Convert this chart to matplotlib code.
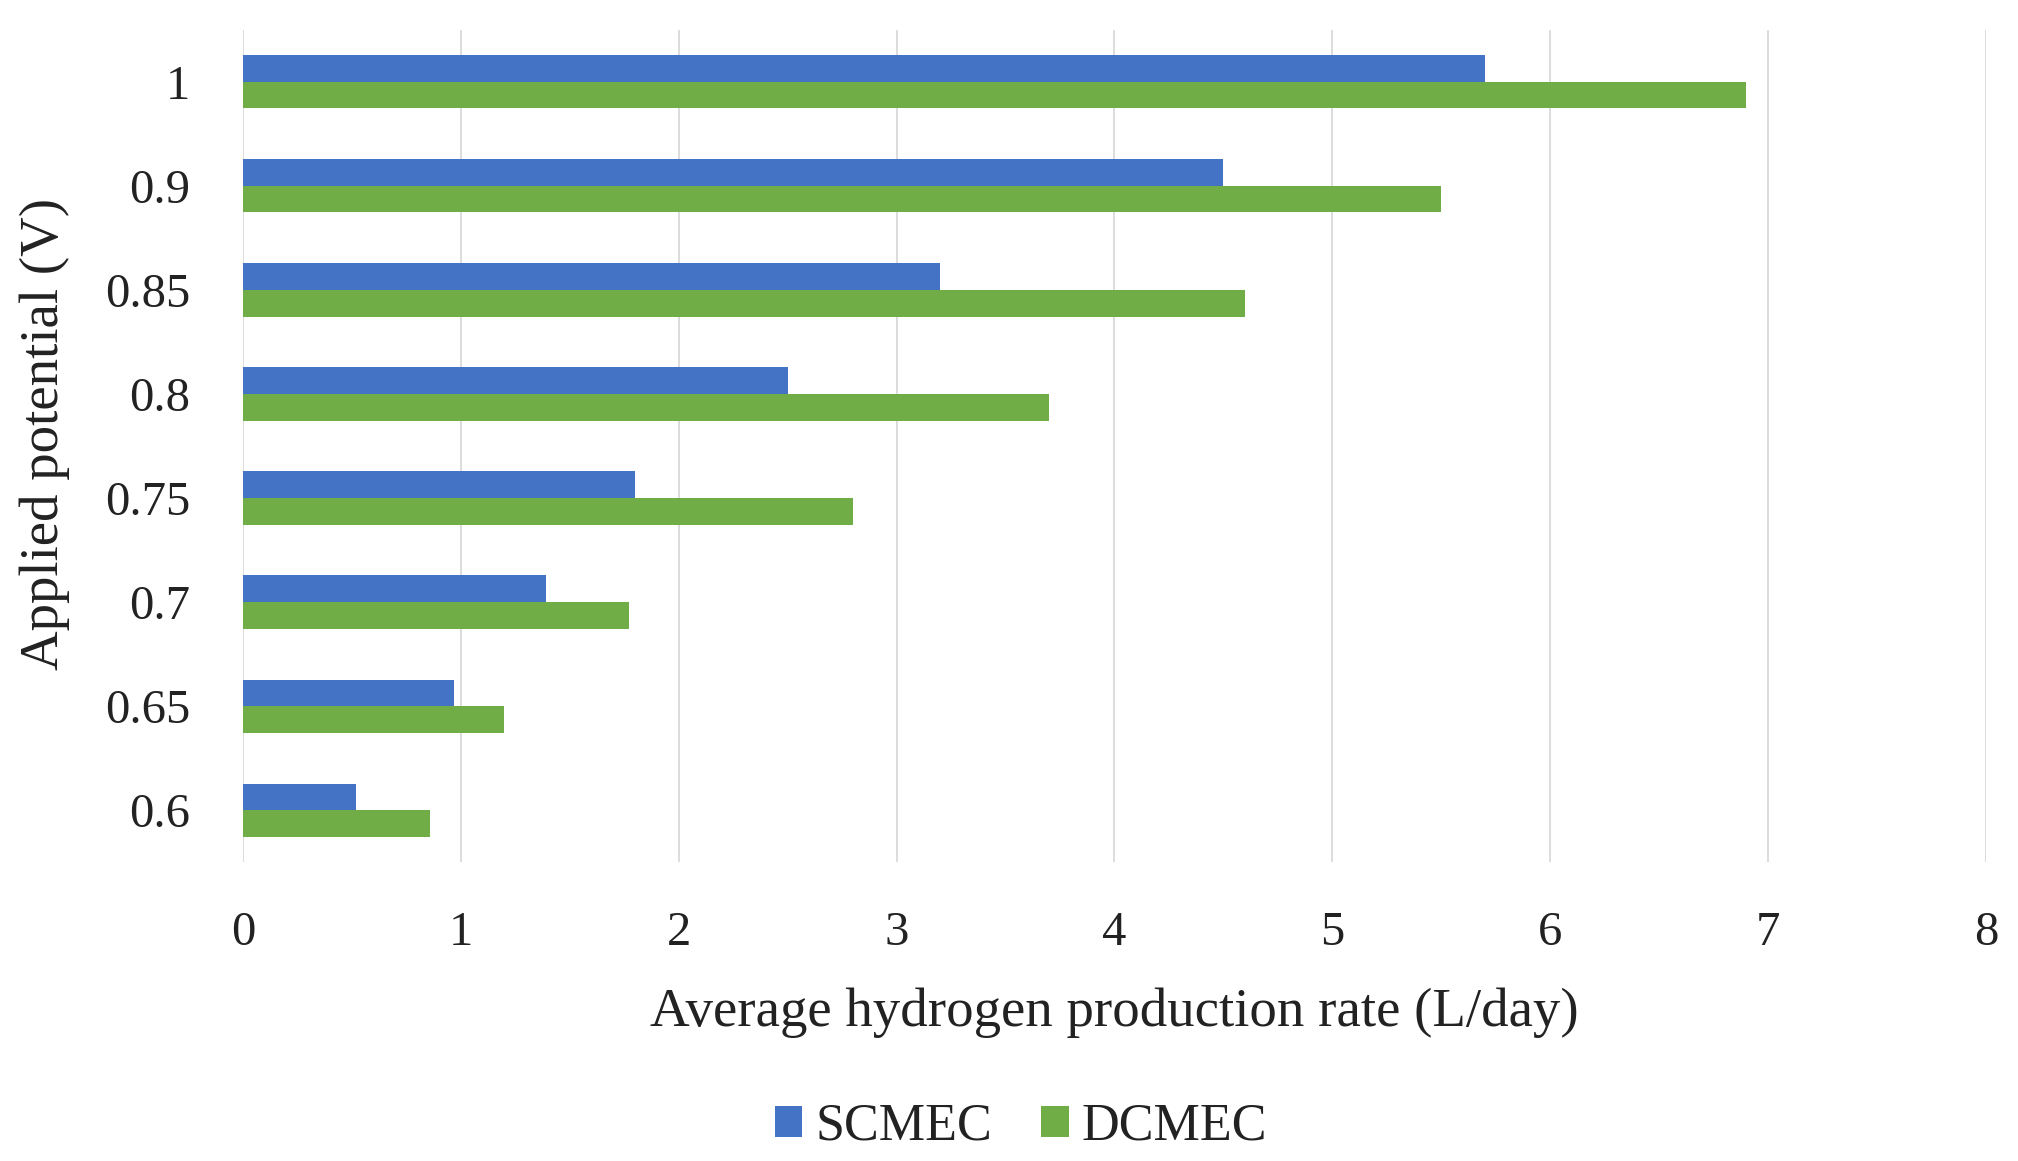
import matplotlib
matplotlib.use("Agg")
import matplotlib.pyplot as plt
import numpy as np

categories = ["0.6", "0.65", "0.7", "0.75", "0.8", "0.85", "0.9", "1"]
scmec = [0.52, 0.97, 1.39, 1.80, 2.50, 3.20, 4.50, 5.70]
dcmec = [0.86, 1.20, 1.77, 2.80, 3.70, 4.60, 5.50, 6.90]
xticks = [0, 1, 2, 3, 4, 5, 6, 7, 8]

blue = "#4472C4"
green = "#70AD47"

plt.rcParams['font.family'] = ['Liberation Serif', 'DejaVu Serif']

fig = plt.figure(figsize=(20.18, 11.61), dpi=100)
ax = fig.add_axes([0.1204, 0.2575, 0.8637, 0.7167])

y = np.arange(len(categories))
h = 0.255
ax.barh(y + h / 2, scmec, height=h, color=blue, label="SCMEC", zorder=3)
ax.barh(y - h / 2, dcmec, height=h, color=green, label="DCMEC", zorder=3)

ax.set_xlim(0, 8)
ax.set_ylim(-0.5, len(categories) - 0.5)
ax.set_xticks(xticks)
ax.set_xticklabels([str(t) for t in xticks])
ax.set_yticks(y)
ax.set_yticklabels(categories)
ax.xaxis.grid(True, color="#D9D9D9", linewidth=1.3, zorder=0)
ax.set_axisbelow(True)
for s in ax.spines.values():
    s.set_visible(False)
ax.tick_params(axis='both', length=0, labelsize=35, colors="#222222")
ax.tick_params(axis='x', pad=35)
ax.tick_params(axis='y', pad=38)

ax.set_xlabel("Average hydrogen production rate (L/day)", fontsize=39.5, color="#222222", va='center')
ax.xaxis.set_label_coords(0.5, -0.1815)
ax.set_ylabel("Applied potential (V)", fontsize=39.5, color="#222222", va='center')
ax.yaxis.set_label_coords(-0.114, 0.514)

fig.legend(loc='center', bbox_to_anchor=(0.506, 0.0293), ncol=2, frameon=False,
           fontsize=37.5, handlelength=0.52, handleheight=0.52, handletextpad=0.25,
           columnspacing=0.95, labelcolor="#222222")

fig.savefig("out.png", dpi=100, facecolor="white")
